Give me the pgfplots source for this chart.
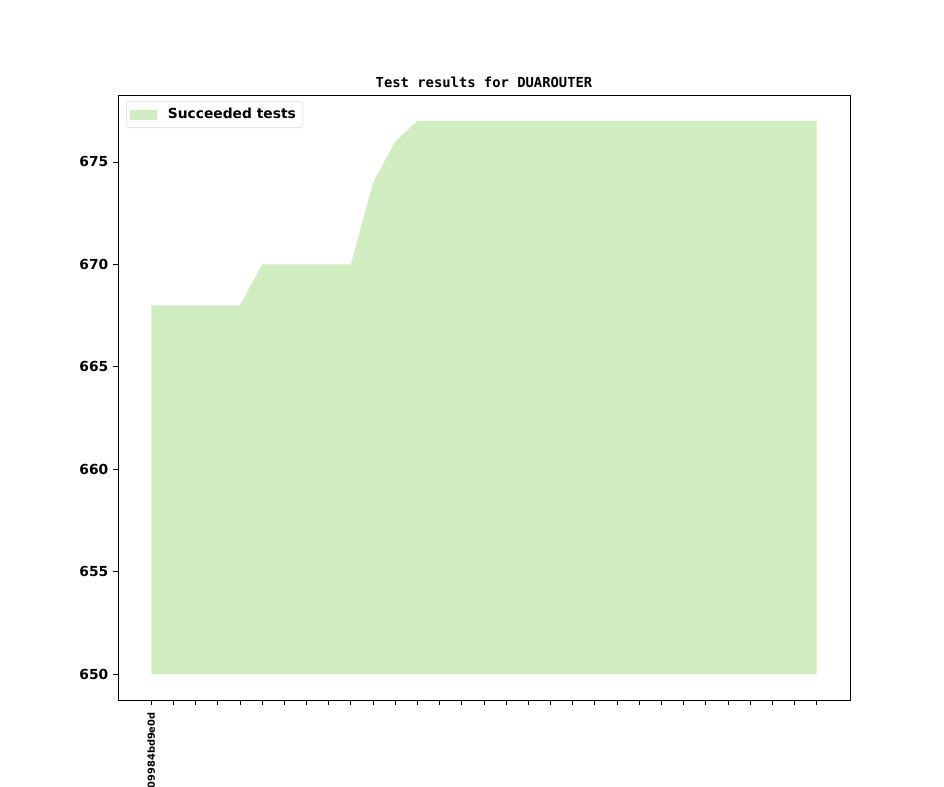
\documentclass[border=0pt]{standalone}
\usepackage{pgfplots}
\pgfplotsset{compat=1.18}
\usepackage{fontspec}
\setmainfont{DejaVu Sans}
\setmonofont{DejaVu Sans Mono}
\definecolor{succ}{RGB}{207,237,191}
\begin{document}
\begin{tikzpicture}
\useasboundingbox (0,0) rectangle (9.44in,7.87in);
\begin{axis}[
  at={(1.18in,0.87in)}, anchor=south west,
  scale only axis, width=7.32in, height=6.05in,
  xmin=-1.5, xmax=31.5, ymin=648.73, ymax=678.27,
  axis line style={line width=0.6pt},
  tick style={line width=0.6pt, black},
  major tick length=3.5pt,
  tick align=outside,
  xtick={0,...,30},
  xticklabels={09984bd9e0d},
  ytick={650,655,...,675},
  xtick pos=bottom, ytick pos=left,
  /pgf/number format/assume math mode=true,
  yticklabel style={font=\bfseries\fontsize{10}{12}\selectfont},
  xticklabel style={font=\bfseries\fontsize{7.1}{8}\selectfont, rotate=90, anchor=east, xshift=-2pt},
  title={\ttfamily\bfseries\fontsize{10}{12}\selectfont Test results for DUAROUTER},
  title style={yshift=-4pt},
  legend style={at={(0.011,0.99)}, anchor=north west, draw=black!15, rounded corners=2pt,
    font=\bfseries\fontsize{10}{12}\selectfont, inner xsep=3pt, inner ysep=3pt},
  legend cell align=left,
  legend image code/.code={\fill[#1, sharp corners] (0pt,-3.6pt) rectangle (19.4pt,3.6pt);
     \path (19.4pt,0) -- (25pt,0);},
]
\addplot[fill=succ, draw=none] coordinates {
(0,650) (0,668) (1,668) (2,668) (3,668) (4,668) (5,670) (6,670) (7,670) (8,670) (9,670)
(10,674) (11,676) (12,677) (13,677) (14,677) (15,677) (16,677) (17,677) (18,677) (19,677)
(20,677) (21,677) (22,677) (23,677) (24,677) (25,677) (26,677) (27,677) (28,677) (29,677)
(30,677) (30,650)} -- cycle;
\addlegendentry{Succeeded tests}
\end{axis}
\end{tikzpicture}
\end{document}
